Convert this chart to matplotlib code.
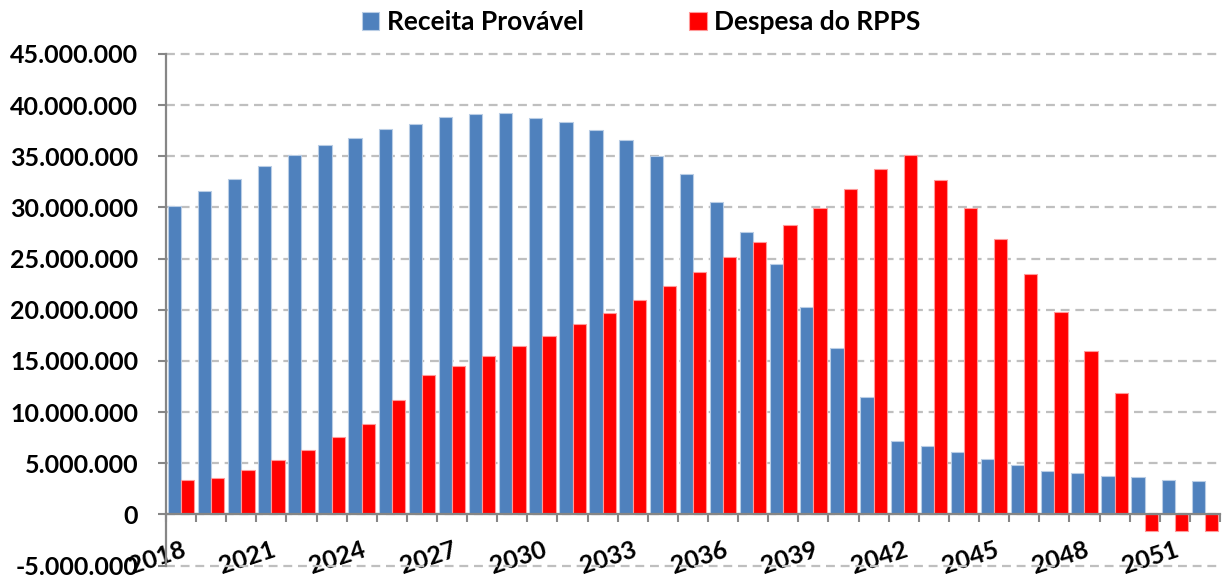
#!/usr/bin/env python3
"""plot.py - Receita Provável x Despesa do RPPS"""

import matplotlib

matplotlib.use("Agg")
import matplotlib.pyplot as plt
import numpy as np

years = list(range(2018, 2053))

receita = [
    30.14, 31.64, 32.77, 34.04, 35.09, 36.09, 36.75, 37.70, 38.14, 38.87,
    39.16, 39.19, 38.73, 38.34, 37.60, 36.62, 35.06, 33.23, 30.50, 27.60,
    24.44, 20.27, 16.24, 11.52, 7.19, 6.64, 6.08, 5.37, 4.79, 4.23,
    4.00, 3.71, 3.61, 3.35, 3.25,
]
despesa = [
    3.32, 3.54, 4.36, 5.30, 6.28, 7.52, 8.85, 11.13, 13.60, 14.51,
    15.46, 16.47, 17.48, 18.58, 19.72, 21.00, 22.30, 23.66, 25.13, 26.66,
    28.25, 29.98, 31.84, 33.79, 35.12, 32.68, 29.94, 26.88, 23.53, 19.82,
    16.01, 11.85, -1.63, -1.63, -1.63,
]
series_names = ["Receita Provável", "Despesa do RPPS"]
y_ticks = list(range(-5_000_000, 45_000_001, 5_000_000))

BLUE = "#4F81BD"
RED = "#FF0000"
GRAY = "#868686"


def fmt(v):
    return f"{int(v):,}".replace(",", ".")


def plot(ax: plt.Axes):
    x = np.arange(len(years))
    rec = np.array(receita) * 1e6
    desp = np.array(despesa) * 1e6
    w = 0.44

    # spines first: moving a spine resets the ticks
    for side in ("top", "right"):
        ax.spines[side].set_visible(False)
    ax.spines["left"].set_color(GRAY)
    ax.spines["left"].set_linewidth(1.6)
    ax.spines["bottom"].set_position(("data", 0))
    ax.spines["bottom"].set_color(GRAY)
    ax.spines["bottom"].set_linewidth(1.6)

    ax.bar(x - w / 2, rec, w, color=BLUE, edgecolor="#B9CDE5", lw=0.8,
           label=series_names[0])
    ax.bar(x + w / 2, desp, w, color=RED, edgecolor="#FF9A9A", lw=0.8,
           label=series_names[1])

    ax.set_xlim(-0.5, len(years) - 0.5)
    ax.set_ylim(y_ticks[0], y_ticks[-1])

    ax.set_yticks(y_ticks)
    ax.set_yticklabels([fmt(v) for v in y_ticks])
    ax.tick_params(axis="y", length=6, width=1.5, color=GRAY, pad=14,
                   labelsize=18)

    # labels every third year, tick marks between categories
    ax.set_xticks(x[::3])
    ax.set_xticklabels([str(y) for y in years[::3]])
    ax.set_xticks(np.arange(-0.5, len(years), 1), minor=True)
    ax.tick_params(axis="x", which="major", length=0, pad=17, labelsize=18,
                   labelrotation=18)
    ax.tick_params(axis="x", which="minor", length=6, width=1.5, color=GRAY)
    plt.setp(ax.get_xticklabels(), ha="right", rotation_mode="anchor")

    ax.grid(axis="y", color="#BFBFBF", lw=1.6, dashes=(4, 2.6))
    for gl in ax.get_ygridlines():
        gl.set_clip_on(False)
    ax.set_axisbelow(True)


def main():
    plt.rcParams["font.family"] = ["Lato", "DejaVu Sans"]
    plt.rcParams["font.weight"] = "bold"
    fig = plt.figure(figsize=(12.24, 5.78), dpi=100)
    ax = fig.add_axes([0.1356, 0.0216, 0.9967 - 0.1356, 0.9066 - 0.0216])
    plot(ax)
    fig.legend(loc="center", bbox_to_anchor=(0.524, 0.962), ncol=2,
               frameon=False, handlelength=0.65, handleheight=0.65,
               handletextpad=0.3, columnspacing=4.0,
               prop={"size": 19, "weight": "bold"})
    fig.savefig("out.png", dpi=100)


if __name__ == "__main__":
    main()
